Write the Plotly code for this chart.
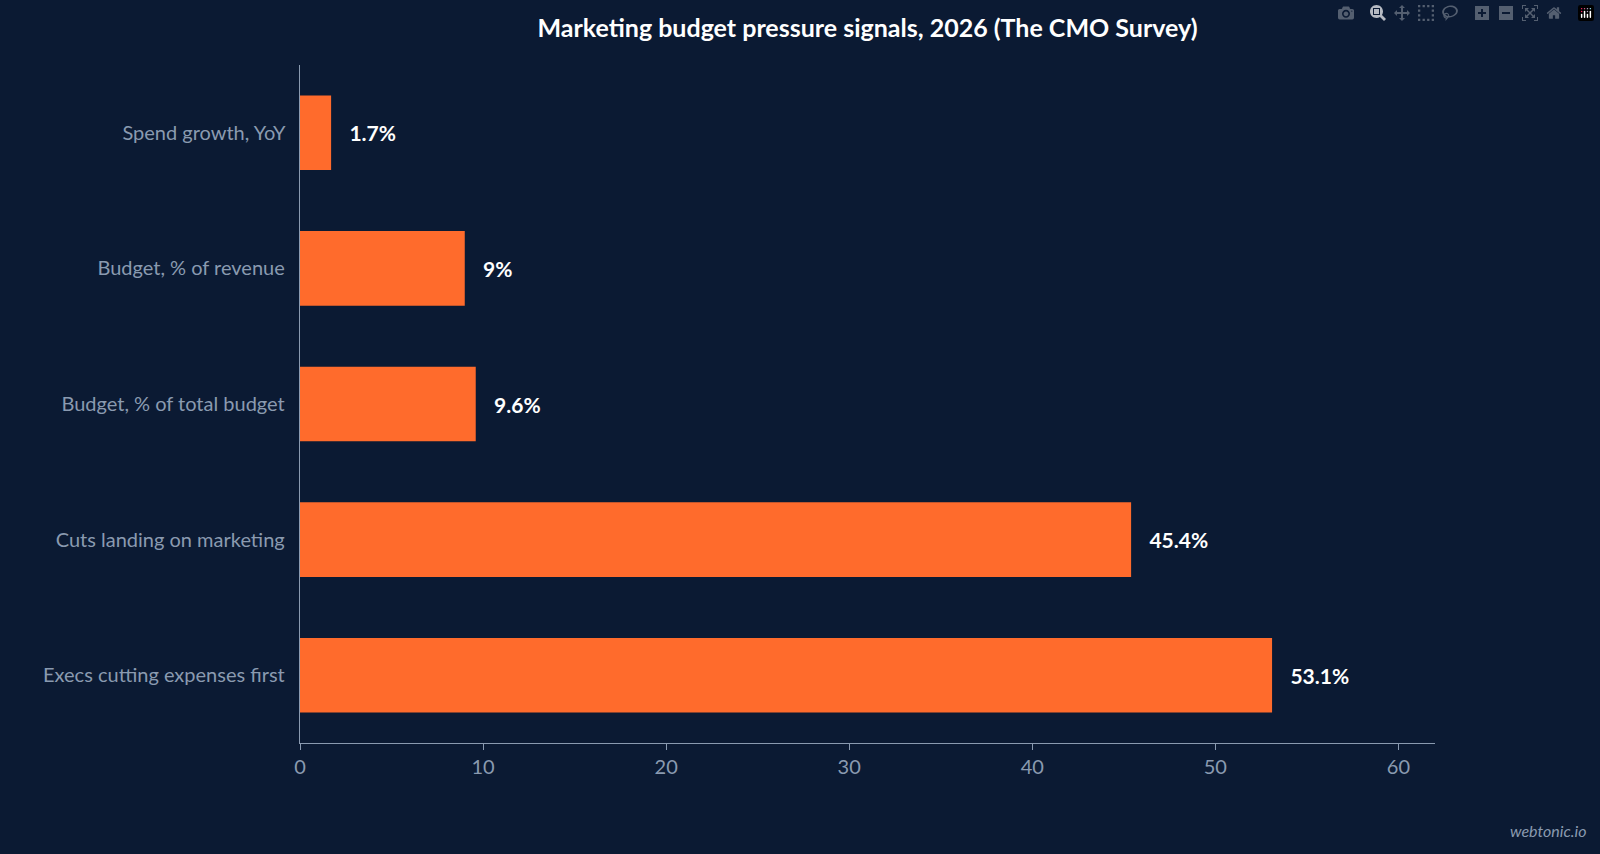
import plotly.graph_objects as go

categories = ["Execs cutting expenses first", "Cuts landing on marketing", "Budget, % of total budget",
              "Budget, % of revenue", "Spend growth, YoY"]
values = [53.1, 45.4, 9.6, 9.0, 1.7]
labels = ["53.1%", "45.4%", "9.6%", "9%", "1.7%"]

bg = "#0b1a33"
fig = go.Figure(go.Bar(
    x=values, y=categories, orientation="h", marker=dict(color="#ff6b2c", line=dict(width=0)),
    text=labels, texttemplate="   %{text}", textposition="outside", cliponaxis=False,
    textfont=dict(color="white", size=21, family="Lato", weight="bold"),
))
fig.update_layout(
    width=1600, height=854, paper_bgcolor=bg, plot_bgcolor=bg,
    margin=dict(l=300, r=165, t=65, b=111),
    font=dict(family="Lato", color="#8a9ab0", size=20),
    bargap=0.45, showlegend=False,
    title=dict(text="<b>Marketing budget pressure signals, 2026 (The CMO Survey)</b>",
               x=(300 + 1435) / 2 / 1600, xanchor="center", y=0.967, yanchor="middle",
               font=dict(color="white", size=25, family="Lato")),
    xaxis=dict(range=[0, 62], dtick=10, showgrid=False, zeroline=False, showline=True,
               linecolor="#8a9ab0", ticks="outside", ticklen=6, tickcolor="#8a9ab0",
               tickfont=dict(size=20)),
    yaxis=dict(showgrid=False, showline=True, linecolor="#8a9ab0", ticks="outside",
               ticklen=0, tickfont=dict(size=20), ticksuffix="  "),
    annotations=[dict(text="<i>webtonic.io</i>", x=1, y=0, xref="paper", yref="paper",
                      xanchor="right", yanchor="bottom", showarrow=False,
                      xshift=165 - 12, yshift=-111 + 12,
                      font=dict(size=16, color="#8a9ab0", family="Lato"))],
)
fig.write_html("out.html", post_script="document.body.style.margin='0';document.body.style.background='#0b1a33';")
